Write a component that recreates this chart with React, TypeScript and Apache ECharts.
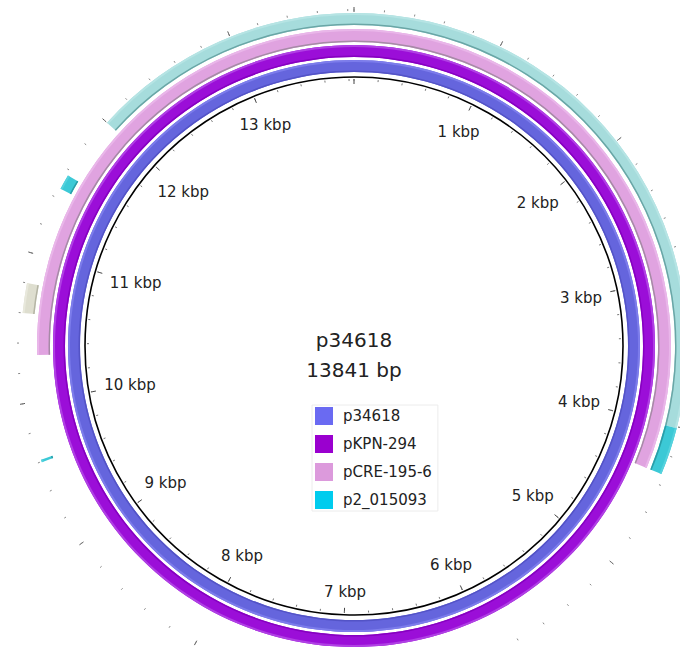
import React, { useEffect, useRef } from "react";
import * as echarts from "echarts";

// ---- data ----
const PLASMID_NAME = "p34618";
const PLASMID_LENGTH = 13841;

const legendNames = ["p34618", "pKPN-294", "pCRE-195-6", "p2_015093"];
const legendColors = ["#6a6af2", "#9a00cf", "#dc9adc", "#00ccee"];

// BLAST hit ranges on the reference (bp)
const p34618Hits = [[0, 13841]];
const pKPN294Hits = [[0, 13841]];
const pCRE1956Hits = [[10318, 13841], [0, 4330]];
const p2015093MidHits = [[12000, 13841], [0, 4010]];
const p2015093HighHits = [[4010, 4330], [11465, 11565], [9596, 9612]];
const p2015093LowHits = [[10600, 10800]];

const tickValues = [1000, 2000, 3000, 4000, 5000, 6000, 7000, 8000, 9000, 10000, 11000, 12000, 13000];
const tickLabels = ["1 kbp", "2 kbp", "3 kbp", "4 kbp", "5 kbp", "6 kbp", "7 kbp", "8 kbp", "9 kbp", "10 kbp", "11 kbp", "12 kbp", "13 kbp"];

// ---- layout ----
const CENTER = [354, 346];
const FONT = "DejaVu Sans";
const LABEL_EDGE_R = 254;

let measureCtx: CanvasRenderingContext2D | null = null;
function textWidth(t: string, size: number) {
  if (!measureCtx) {
    measureCtx = document.createElement("canvas").getContext("2d");
  }
  if (!measureCtx) return t.length * size * 0.6;
  measureCtx.font = `${size}px "${FONT}"`;
  return measureCtx.measureText(t).width;
}

type Pal = { fill: string; inner: string; outer: string };

function ringRenderer(r0: number, r1: number, palettes: Pal[]) {
  return (params: any, api: any) => {
    const cs = params.coordSys;
    const cx = cs.cx;
    const cy = cs.cy;
    const s = api.value(0);
    const e = api.value(1);
    const gi = api.value(2) || 0;
    const ang = (v: number) => {
      const p = api.coord([r1, v]);
      return Math.atan2(p[1] - cy, p[0] - cx);
    };
    const a0 = ang(s);
    let a1 = ang(e);
    while (a1 <= a0 + 1e-9) a1 += Math.PI * 2;
    const pal = palettes[gi];
    const sec = (ra: number, rb: number, fill: string) => ({
      type: "sector",
      shape: { cx, cy, r0: ra, r: rb, startAngle: a0, endAngle: a1, clockwise: true },
      style: { fill },
    });
    return {
      type: "group",
      children: [
        sec(r0, r1, pal.fill),
        sec(r1 - 2, r1, pal.outer),
        sec(r0, r0 + 1.5, pal.inner),
      ],
    };
  };
}

function ringSeries(name: string, groups: number[][][], r0: number, r1: number, palettes: Pal[], color: string) {
  return {
    type: "custom",
    name,
    coordinateSystem: "polar",
    polarIndex: 5,
    silent: true,
    itemStyle: { color },
    data: groups.flatMap((g, gi) => g.map(([s, e]) => [s, e, gi])),
    renderItem: ringRenderer(r0, r1, palettes),
  };
}

function angleAxis(polarIndex: number, interval: number, extra: any) {
  return {
    polarIndex,
    type: "value",
    min: 0,
    max: PLASMID_LENGTH,
    interval,
    startAngle: 90,
    clockwise: true,
    axisLine: { show: false },
    axisTick: { show: false },
    axisLabel: { show: false },
    splitLine: { show: false },
    splitArea: { show: false },
    minorTick: { show: false },
    ...extra,
  };
}

export default function App() {
  const ref = useRef<HTMLDivElement>(null);
  useEffect(() => {
    if (!ref.current) return;
    const chart = echarts.init(ref.current, null, { renderer: "svg" });
    const radii = [269, 267, 267, 334, 335, 345];
    const option: any = {
      animation: false,
      backgroundColor: "#ffffff",
      polar: radii.map((r) => ({ center: CENTER, radius: r })),
      radiusAxis: radii.map((r, i) => ({
        polarIndex: i,
        type: "value",
        min: 0,
        max: r,
        show: false,
        splitLine: { show: false },
      })),
      angleAxis: [
        angleAxis(0, 1000, { axisLine: { show: true, lineStyle: { color: "#000", width: 1.6 } } }),
        angleAxis(1, 1000, { axisTick: { show: true, inside: true, length: 5, lineStyle: { color: "#444", width: 1 } } }),
        angleAxis(2, 200, { axisTick: { show: true, inside: true, length: 2, lineStyle: { color: "#777", width: 1 } } }),
        angleAxis(3, 1000, { axisTick: { show: true, inside: false, length: 5, lineStyle: { color: "#555", width: 1 } } }),
        angleAxis(4, 200, { axisTick: { show: true, inside: false, length: 2, lineStyle: { color: "#888", width: 1 } } }),
        angleAxis(5, 1000, {}),
      ],
      legend: {
        orient: "vertical",
        left: 312,
        top: 405,
        padding: [2, 6, 2, 3],
        itemWidth: 18,
        itemHeight: 18,
        itemGap: 10,
        icon: "rect",
        selectedMode: false,
        borderColor: "#ececec",
        borderWidth: 1,
        backgroundColor: "#ffffff",
        textStyle: { fontSize: 15, fontFamily: FONT, color: "#222", padding: [0, 0, 0, 5] },
        data: legendNames.map((n, i) => ({ name: n, itemStyle: { color: legendColors[i] } })),
      },
      graphic: [
        {
          type: "text",
          x: CENTER[0],
          y: 340,
          style: { text: PLASMID_NAME, fontSize: 20, fontFamily: FONT, fill: "#222", align: "center", verticalAlign: "middle" },
        },
        {
          type: "text",
          x: CENTER[0],
          y: 370,
          style: { text: `${PLASMID_LENGTH} bp`, fontSize: 20, fontFamily: FONT, fill: "#222", align: "center", verticalAlign: "middle" },
        },
      ],
      series: [
        ringSeries(legendNames[0], [p34618Hits], 274, 286, [{ fill: "#6565dd", inner: "#5353c6", outer: "#7c7ceb" }], legendColors[0]),
        ringSeries(legendNames[1], [pKPN294Hits], 289, 301, [{ fill: "#9b0ed8", inner: "#8600c0", outer: "#b040e4" }], legendColors[1]),
        ringSeries(legendNames[2], [pCRE1956Hits], 304, 317, [{ fill: "#e0a3e0", inner: "#a68aa6", outer: "#e9b6e9" }], legendColors[2]),
        ringSeries(
          legendNames[3],
          [p2015093MidHits, p2015093HighHits, p2015093LowHits],
          321,
          333,
          [
            { fill: "#a6dcdc", inner: "#6aa6a6", outer: "#b6e4e4" },
            { fill: "#3cc9d6", inner: "#2a9ea8", outer: "#55d2dd" },
            { fill: "#dedecf", inner: "#b4b4a4", outer: "#e8e8dc" },
          ],
          legendColors[3]
        ),
        {
          type: "custom",
          coordinateSystem: "polar",
          polarIndex: 5,
          silent: true,
          data: tickValues.map((v, i) => [0, v, i]),
          renderItem: (params: any, api: any) => {
            const cs = params.coordSys;
            const cx = cs.cx;
            const cy = cs.cy;
            const v = api.value(1);
            const label = tickLabels[api.value(2)];
            const p = api.coord([LABEL_EDGE_R, v]);
            const ux = (p[0] - cx) / LABEL_EDGE_R;
            const uy = (p[1] - cy) / LABEL_EDGE_R;
            const w = textWidth(label, 15);
            const rr = LABEL_EDGE_R - (w / 2) * Math.abs(ux) - 7 * Math.abs(uy);
            return {
              type: "text",
              x: cx + ux * rr,
              y: cy + uy * rr,
              style: { text: label, fontSize: 15, fontFamily: FONT, fill: "#222", align: "center", verticalAlign: "middle" },
            };
          },
        },
      ],
    };
    chart.setOption(option);
    return () => chart.dispose();
  }, []);
  return (
    <div
      ref={ref}
      style={{ position: "fixed", left: 0, top: 0, width: 680, height: 647, background: "#fff" }}
    />
  );
}
